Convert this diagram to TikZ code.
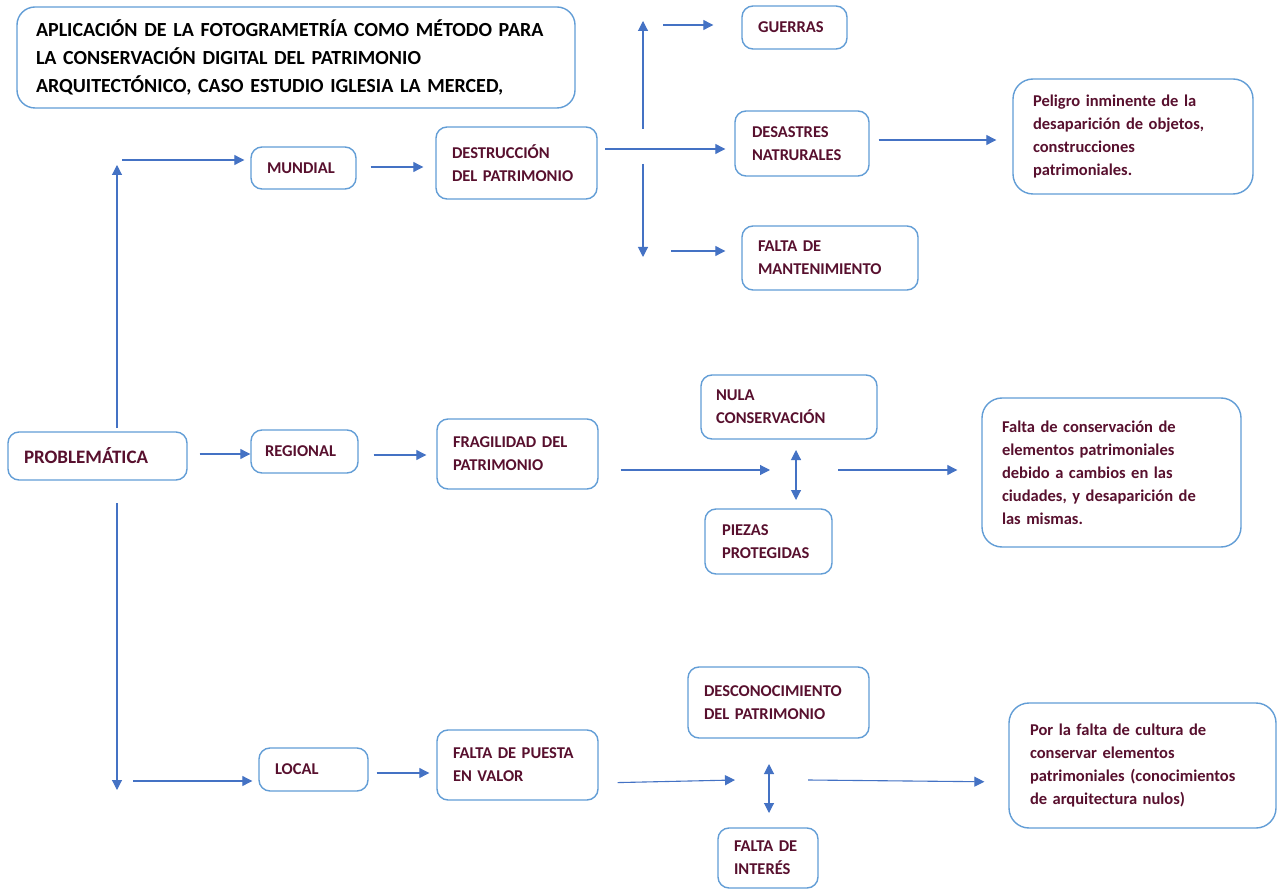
\documentclass[tikz,border=0pt]{standalone}
\usepackage{fontspec}
\setmainfont{Carlito}
\usetikzlibrary{arrows.meta}
\definecolor{boxblue}{RGB}{98,157,214}
\definecolor{arrowblue}{RGB}{68,114,196}
\definecolor{maroon}{RGB}{88,16,46}
\tikzset{
  box/.style={draw=boxblue, line width=1.4pt, rounded corners=11pt, fill=white,
    align=left, inner ysep=0pt, font=\bfseries\fontsize{16.5}{23}\selectfont,
    text=maroon},
  bigbox/.style={box, rounded corners=20pt},
  tip/.tip={Triangle[length=10pt,width=10pt]},
  arr/.style={draw=arrowblue, line width=1.1pt, -tip},
  darr/.style={draw=arrowblue, line width=1.1pt, tip-tip}
}
\begin{document}
\begin{tikzpicture}[x=1pt,y=-1pt]
\useasboundingbox (0,0) rectangle (1277,890);
\fill[white] (0,0) rectangle (1277,890);

% title
\node[box, rounded corners=18pt, text=black, inner xsep=19pt,
  font=\bfseries\fontsize{20}{28}\selectfont,
  text width=520pt, minimum width=558pt, minimum height=101pt] (title) at (296,57.5)
  {APLICACIÓN DE LA FOTOGRAMETRÍA COMO MÉTODO PARA\\LA CONSERVACIÓN DIGITAL DEL PATRIMONIO\\ARQUITECTÓNICO, CASO ESTUDIO IGLESIA LA MERCED,};

% root
\node[box, inner xsep=16pt, font=\bfseries\fontsize{19}{23}\selectfont,
  text width=147pt, minimum height=48pt] (prob) at (97.5,456) {PROBLEMÁTICA};

% level 1
\node[box, inner xsep=16pt, text width=73pt, minimum height=42pt] (mundial) at (303.5,168) {MUNDIAL};
\node[box, inner xsep=14pt, text width=79pt, minimum height=43pt] (regional) at (304.5,451.5) {REGIONAL};
\node[box, inner xsep=16pt, text width=77pt, minimum height=43pt] (local) at (313.5,769.5) {LOCAL};

% level 2
\node[box, inner xsep=16pt, text width=129pt, minimum height=72pt] (destr) at (516.5,163) {DESTRUCCIÓN\\DEL PATRIMONIO};
\node[box, inner xsep=16pt, text width=129pt, minimum height=70pt] (frag) at (517.5,454) {FRAGILIDAD DEL\\PATRIMONIO};
\node[box, inner xsep=16pt, text width=129pt, minimum height=70pt] (puesta) at (517.5,765) {FALTA DE PUESTA\\EN VALOR};

% world causes
\node[box, inner xsep=16pt, text width=73pt, minimum height=43pt] (guerras) at (794.5,27.5) {GUERRAS};
\node[box, inner xsep=17pt, text width=100pt, minimum height=65pt] (desastres) at (802,143.5) {DESASTRES\\NATRURALES};
\node[box, inner xsep=16pt, text width=144pt, minimum height=64pt] (mant) at (830,258) {FALTA DE\\MANTENIMIENTO};

% regional causes
\node[box, inner xsep=15pt, text width=146pt, minimum height=64pt] (nula) at (789,407) {NULA\\CONSERVACIÓN};
\node[box, inner xsep=17pt, text width=93pt, minimum height=65pt] (piezas) at (768.5,541.5) {PIEZAS\\PROTEGIDAS};

% local causes
\node[box, inner xsep=16pt, text width=149pt, minimum height=71pt] (descon) at (778.5,702.5) {DESCONOCIMIENTO\\DEL PATRIMONIO};
\node[box, inner xsep=16pt, text width=68pt, minimum height=60pt] (interes) at (768,858) {FALTA DE\\INTERÉS};

% consequences
\node[bigbox, inner xsep=20pt, text width=200pt, minimum height=115pt] (peligro) at (1133,136.5)
  {Peligro inminente de la\\desaparición de objetos,\\construcciones\\patrimoniales.};
\node[bigbox, inner xsep=20pt, text width=219pt, minimum height=149pt] (faltacons) at (1111.5,472.5)
  {Falta de conservación de\\elementos patrimoniales\\debido a cambios en las\\ciudades, y desaparición de\\las mismas.};
\node[bigbox, inner xsep=21pt, text width=225pt, minimum height=125pt] (porla) at (1142.5,765.5)
  {Por la falta de cultura de\\conservar elementos\\patrimoniales (conocimientos\\de arquitectura nulos)};

% trunk from the root
\coordinate (upBase) at (117,428);
\coordinate (upTop) at (117,165);
\coordinate (dnBase) at (117,503);
\coordinate (dnEnd) at (117,790);
\coordinate (mIn) at (122,160);
\coordinate (lIn) at (133,781);
\draw[arr] (upBase) -- (upTop);
\draw[arr] (dnBase) -- (dnEnd);
\draw[arr, shorten >=6pt] (mIn) -- (mIn -| mundial.west);
\draw[arr, shorten >=6pt] (lIn) -- (lIn -| local.west);
\draw[arr, shorten <=12pt] (prob.east |- 0,454) -- (regional.west |- 0,454);

% level 1 to level 2
\draw[arr, shorten <=14pt, shorten >=12pt] (mundial.east |- 0,167) -- (destr.west |- 0,167);
\draw[arr, shorten <=15pt, shorten >=10pt] (regional.east |- 0,455) -- (frag.west |- 0,455);
\draw[arr, shorten <=8pt, shorten >=7pt] (local.east |- 0,773) -- (puesta.west |- 0,773);

% world branch
\coordinate (dA) at (605,149);
\coordinate (upB) at (643,129);
\coordinate (upT) at (643,21);
\coordinate (dnB) at (643,164);
\coordinate (dnT) at (643,257);
\coordinate (gA) at (663,25);
\coordinate (mA) at (671,251);
\draw[arr, shorten >=9pt] (dA) -- (dA -| desastres.west);
\draw[arr] (upB) -- (upT);
\draw[arr] (dnB) -- (dnT);
\draw[arr, shorten >=28pt] (gA) -- (gA -| guerras.west);
\draw[arr, shorten >=16pt] (mA) -- (mA -| mant.west);
\draw[arr, shorten <=9pt, shorten >=16pt] (desastres.east |- 0,140) -- (peligro.west |- 0,140);

% regional branch
\coordinate (rT) at (770,470);
\coordinate (rA) at (838,470);
\coordinate (rUp) at (796,450);
\coordinate (rDn) at (796,500);
\draw[arr, shorten <=22pt] (frag.east |- rT) -- (rT);
\draw[darr] (rUp) -- (rDn);
\draw[arr, shorten >=24pt] (rA) -- (rA -| faltacons.west);

% local branch
\coordinate (lT) at (735,780);
\coordinate (lA) at (808,780);
\coordinate (lUp) at (769,764);
\coordinate (lDn) at (769,813);
\draw[arr, shorten <=19pt] (puesta.east |- 0,783) -- (lT);
\draw[darr] (lUp) -- (lDn);
\draw[arr, shorten >=24pt] (lA) -- (porla.west |- 0,782);
\end{tikzpicture}
\end{document}
